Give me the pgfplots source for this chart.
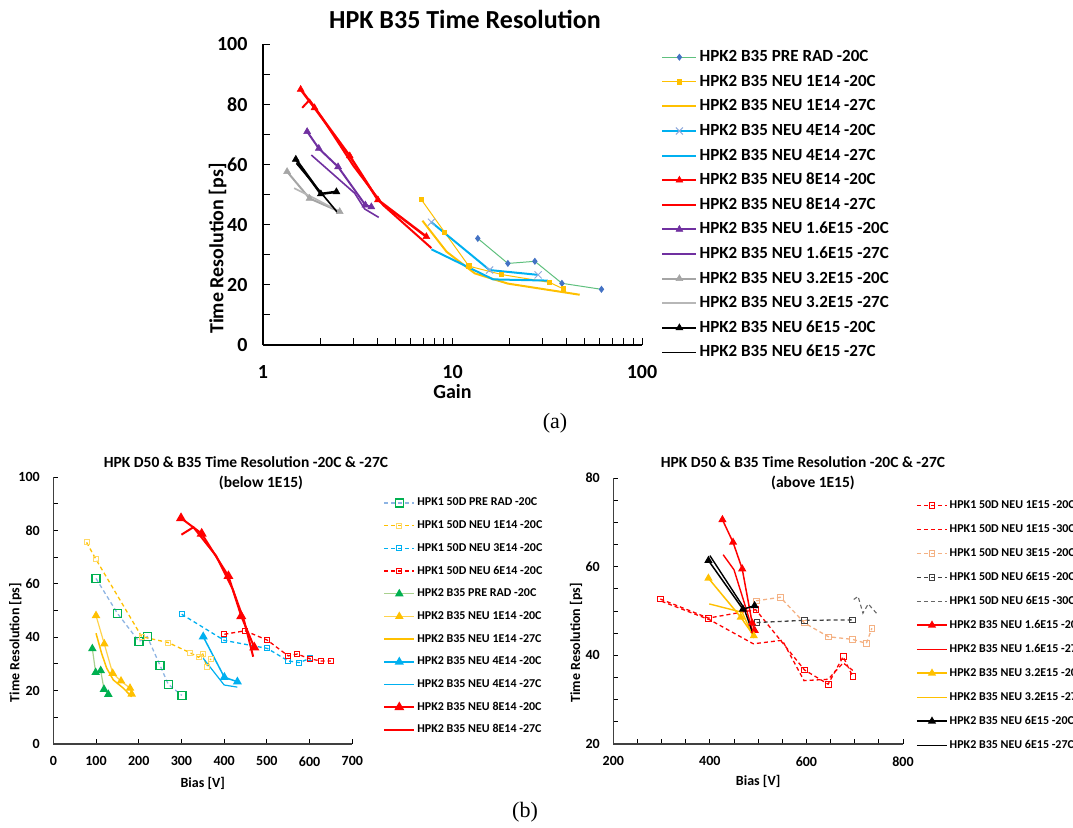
\documentclass[border=0pt]{standalone}
\usepackage{fontspec}
\setmainfont{Carlito}
\newfontfamily\timesfont{Liberation Serif}
\usepackage{pgfplots}
\pgfplotsset{compat=1.18}
\definecolor{gold}{HTML}{FFC000}
\definecolor{cyanx}{HTML}{00B0F0}
\definecolor{redx}{HTML}{FF0000}
\definecolor{purp}{HTML}{7030A0}
\definecolor{grayx}{HTML}{A5A5A5}
\definecolor{greenl}{HTML}{5FC07E}
\definecolor{mkblue}{HTML}{4472C4}
\definecolor{xblue}{HTML}{8FAADC}
\definecolor{gx}{HTML}{00B050}
\definecolor{lgreen}{HTML}{A9D18E}
\definecolor{dblue}{HTML}{8EB4E3}
\definecolor{lyellow}{HTML}{FFD966}
\definecolor{salmon}{HTML}{F4B183}
\definecolor{dgray}{HTML}{404040}
\pgfplotsset{
  common/.style={
    scale only axis,
    axis x line*=bottom, axis y line*=left,
    axis line style={black, line width=1.3pt, -},
    every tick/.style={black, line width=1pt},
    tick align=inside,
    major tick length=7pt, minor tick length=7pt,
    /pgf/number format/assume math mode=true,
    clip=false,
    legend cell align=left,
  },
  dsh/.style={dash pattern=on 4pt off 3pt},
}
\begin{document}
\begin{tikzpicture}
\path[use as bounding box] (0,0) rectangle (1073pt,-827pt);
% titles
\node[font=\bfseries\fontsize{26}{26}\selectfont] at (465pt,-19pt) {HPK B35 Time Resolution};
\node[font=\bfseries\fontsize{15.5}{15.5}\selectfont] at (246pt,-462pt) {HPK D50 \& B35 Time Resolution -20C \& -27C};
\node[font=\bfseries\fontsize{15.5}{15.5}\selectfont] at (261pt,-483pt) {(below 1E15)};
\node[font=\bfseries\fontsize{15.5}{15.5}\selectfont] at (803pt,-462pt) {HPK D50 \& B35 Time Resolution -20C \& -27C};
\node[font=\bfseries\fontsize{15.5}{15.5}\selectfont] at (813pt,-483pt) {(above 1E15)};
\node[font=\timesfont\fontsize{22}{22}\selectfont] at (555pt,-423pt) {(a)};
\node[font=\timesfont\fontsize{22}{22}\selectfont] at (525pt,-812pt) {(b)};

% ================= TOP =================
\begin{axis}[common,
  at={(263pt,-345pt)}, anchor=south west,
  width=379pt, height=301pt,
  xmode=log, xmin=1, xmax=100, ymin=0, ymax=100,
  xtick={1,10,100}, xticklabels={1,10,100},
  ytick={0,20,40,60,80,100}, minor y tick num=1,
  tick label style={font=\bfseries\fontsize{20}{20}\selectfont},
  xticklabel style={yshift=-17pt},
  yticklabel style={xshift=-12pt},
  xlabel={Gain}, ylabel={Time Resolution [ps]},
  label style={font=\bfseries\fontsize{20}{20}\selectfont},
  xlabel style={at={(axis description cs:0.5,-0.156)}, anchor=center},
  ylabel style={at={(axis description cs:-0.12,0.32)}, anchor=center, rotate=0},
  legend image code/.code={\draw[#1] (0pt,0pt) -- (34pt,0pt); \path[#1] plot coordinates {(17pt,0pt)};},
  legend style={draw=none, fill=none, at={(axis description cs:1.050,0.985)}, anchor=north west,
    inner sep=0pt, row sep=7.6pt,
    font=\bfseries\fontsize{17}{17}\selectfont,
    nodes={inner xsep=2pt, inner ysep=0pt, text height=13pt, text depth=4pt}},
]
\addplot[greenl, line width=1pt, mark=diamond*, mark size=2.8pt, mark options={fill=mkblue, draw=mkblue}] coordinates {(13.6,35.4)(19.6,27.1)(27.2,27.8)(37.8,20.5)(61.1,18.5)};
\addlegendentry{HPK2 B35 PRE RAD -20C}
\addplot[gold, line width=1pt, mark=square*, mark size=2.2pt, mark options={fill=gold, draw=gold}] coordinates {(6.85,48.3)(9.1,37.4)(12.2,26.2)(18.2,23.4)(32.5,20.8)(38.6,18.6)};
\addlegendentry{HPK2 B35 NEU 1E14 -20C}
\addplot[gold, line width=2pt] coordinates {(6.94,41.3)(9.3,31.0)(13.1,23.8)(19.6,20.4)(46.9,16.7)};
\addlegendentry{HPK2 B35 NEU 1E14 -27C}
\addplot[cyanx, line width=2pt, mark=x, mark size=5pt, mark options={draw=xblue, line width=1pt}] coordinates {(7.74,40.8)(15.7,24.9)(28.3,23.3)};
\addlegendentry{HPK2 B35 NEU 4E14 -20C}
\addplot[cyanx, line width=2pt] coordinates {(7.74,31.8)(16.4,21.8)(31.9,21.4)};
\addlegendentry{HPK2 B35 NEU 4E14 -27C}
\addplot[redx, line width=2.5pt, mark=triangle*, mark size=4pt, mark options={fill=redx, draw=redx, line width=0.5pt}] coordinates {(1.58,84.9)(1.87,78.8)(2.87,62.8)(4.04,48.2)(7.28,36.0)};
\addlegendentry{HPK2 B35 NEU 8E14 -20C}
\addplot[redx, line width=2pt] coordinates {(1.61,78.8)(1.76,81.4)(2.05,75.5)(3.0,59.5)(4.3,46.5)(7.74,32.2)};
\addlegendentry{HPK2 B35 NEU 8E14 -27C}
\addplot[purp, line width=2pt, mark=triangle*, mark size=4pt, mark options={fill=purp, draw=purp, line width=0.5pt}] coordinates {(1.71,70.9)(1.97,65.3)(2.49,59.2)(3.47,46.5)(3.73,45.9)};
\addlegendentry{HPK2 B35 NEU 1.6E15 -20C}
\addplot[purp, line width=1.6pt] coordinates {(1.80,63.1)(3.05,50.4)(3.44,45.2)(4.08,42.4)};
\addlegendentry{HPK2 B35 NEU 1.6E15 -27C}
\addplot[grayx, line width=2pt, mark=triangle*, mark size=4pt, mark options={fill=grayx, draw=grayx, line width=0.5pt}] coordinates {(1.34,57.6)(1.76,48.7)(2.54,44.3)};
\addlegendentry{HPK2 B35 NEU 3.2E15 -20C}
\addplot[grayx!80!white, line width=1.6pt] coordinates {(1.46,52.1)(1.9,48.5)(2.59,44.0)};
\addlegendentry{HPK2 B35 NEU 3.2E15 -27C}
\addplot[black, line width=2.5pt, mark=triangle*, mark size=4pt, mark options={fill=black, line width=0.5pt}] coordinates {(1.49,61.7)(2.02,50.2)(2.44,50.9)};
\addlegendentry{HPK2 B35 NEU 6E15 -20C}
\addplot[black, line width=1.6pt] coordinates {(1.50,60.4)(2.49,43.8)};
\addlegendentry{HPK2 B35 NEU 6E15 -27C}
\end{axis}

% ================= BOTTOM LEFT =================
\begin{axis}[common,
  at={(53.3pt,-744pt)}, anchor=south west,
  width=299pt, height=267pt,
  xmin=0, xmax=700, ymin=0, ymax=100,
  xtick={0,100,...,700}, ytick={0,20,...,100}, minor y tick num=1,
  axis line style={dgray, line width=1.2pt, -},
  major tick length=5pt, minor tick length=5pt,
  tick label style={font=\bfseries\fontsize{14}{14}\selectfont},
  xticklabel style={yshift=-9pt},
  yticklabel style={xshift=-10pt},
  xlabel={Bias [V]}, ylabel={Time Resolution [ps]},
  label style={font=\bfseries\fontsize{14}{14}\selectfont},
  xlabel style={at={(axis description cs:0.5,-0.147)}, anchor=center},
  ylabel style={at={(axis description cs:-0.127,0.38)}, anchor=center, rotate=0},
  legend image code/.code={\draw[#1] (0pt,0pt) -- (30pt,0pt); \path[#1] plot coordinates {(15pt,0pt)};},
  legend style={draw=none, fill=none, at={(axis description cs:1.103,0.926)}, anchor=north west,
    inner sep=0pt, row sep=10.7pt,
    font=\bfseries\fontsize{12}{12}\selectfont,
    nodes={inner xsep=2pt, inner ysep=0pt, text height=9pt, text depth=3pt}},
]
\addplot[dblue, line width=1.3pt, dsh, mark=square, mark size=4pt, mark options={solid, draw=gx, fill=white, line width=1.3pt}] coordinates {(100,62)(150.7,48.8)(200.6,38.4)(220,40.2)(250,29.4)(269,22.4)(301,18.2)};
\addlegendentry{HPK1 50D PRE RAD -20C}
\addplot[gold, line width=1.3pt, dsh, mark=square, mark size=2.5pt, mark options={solid, draw=lyellow, fill=white, line width=1pt}] coordinates {(78,75.5)(99,69.4)(207,40.2)(269,38)(320,34.2)(340,32.5)(350,33.7)(359,29)(369,31.9)};
\addlegendentry{HPK1 50D NEU 1E14 -20C}
\addplot[cyanx, line width=1.3pt, dsh, mark=square, mark size=2.5pt, mark options={solid, draw=cyanx, fill=white, line width=1pt}] coordinates {(300.6,48.6)(400.4,38.8)(501,35.8)(550,31.1)(576,30.5)(601,32.1)};
\addlegendentry{HPK1 50D NEU 3E14 -20C}
\addplot[redx, line width=1.3pt, dsh, mark=square, mark size=2.5pt, mark options={solid, draw=redx, fill=white, line width=1pt}] coordinates {(400.4,41.1)(449,42.4)(501,38.9)(550,33.0)(571,33.7)(601,31.9)(626,31.1)(650,31.1)};
\addlegendentry{HPK1 50D NEU 6E14 -20C}
\addplot[lgreen, line width=1.2pt, mark=triangle*, mark size=3.8pt, mark options={fill=gx, draw=gx}] coordinates {(91.4,35.7)(99.2,26.8)(111,27.5)(118.7,20.5)(128.8,18.6)};
\addlegendentry{HPK2 B35 PRE RAD -20C}
\addplot[gold!70!white, line width=1.2pt, mark=triangle*, mark size=3.8pt, mark options={fill=gold, draw=gold}] coordinates {(100,48.1)(119.4,37.5)(139,26.5)(158.5,23.6)(179.6,20.9)(183.5,18.7)};
\addlegendentry{HPK2 B35 NEU 1E14 -20C}
\addplot[gold, line width=1.5pt] coordinates {(100,41.5)(113,34)(125,28.4)(140.5,24)(164,20.9)(183.5,17.7)};
\addlegendentry{HPK2 B35 NEU 1E14 -27C}
\addplot[cyanx, line width=1.5pt, mark=triangle*, mark size=3.8pt, mark options={fill=cyanx, draw=cyanx}] coordinates {(351,40.2)(400.5,25)(431,23.3)};
\addlegendentry{HPK2 B35 NEU 4E14 -20C}
\addplot[cyanx, line width=1.2pt] coordinates {(351,32.1)(400,22.1)(431,21.3)};
\addlegendentry{HPK2 B35 NEU 4E14 -27C}
\addplot[redx, line width=2pt, mark=triangle*, mark size=3.8pt, mark options={fill=redx, draw=redx}] coordinates {(299,84.6)(347.4,78.8)(410,62.9)(440,47.9)(470.5,36.2)};
\addlegendentry{HPK2 B35 NEU 8E14 -20C}
\addplot[redx, line width=2pt] coordinates {(300,78.4)(328,81.2)(381,70.5)(420,58)(447,46)(468,32.7)};
\addlegendentry{HPK2 B35 NEU 8E14 -27C}
\end{axis}

% ================= BOTTOM RIGHT =================
\begin{axis}[common,
  at={(613.3pt,-744pt)}, anchor=south west,
  width=289.7pt, height=266pt,
  xmin=200, xmax=800, ymin=20, ymax=80,
  xtick={200,400,600,800}, minor x tick num=3,
  ytick={20,40,60,80}, minor y tick num=3,
  axis line style={dgray, line width=1.2pt, -},
  major tick length=5pt, minor tick length=5pt,
  tick label style={font=\bfseries\fontsize{14}{14}\selectfont},
  xticklabel style={yshift=-9pt},
  yticklabel style={xshift=-10pt},
  xlabel={Bias [V]}, ylabel={Time Resolution [ps]},
  label style={font=\bfseries\fontsize{14}{14}\selectfont},
  xlabel style={at={(axis description cs:0.5,-0.142)}, anchor=center},
  ylabel style={at={(axis description cs:-0.128,0.38)}, anchor=center, rotate=0},
  legend image code/.code={\draw[#1] (0pt,0pt) -- (30pt,0pt); \path[#1] plot coordinates {(15pt,0pt)};},
  legend style={draw=none, fill=none, at={(axis description cs:1.045,0.921)}, anchor=north west,
    inner sep=0pt, row sep=12pt,
    font=\bfseries\fontsize{12}{12}\selectfont,
    nodes={inner xsep=2pt, inner ysep=0pt, text height=9pt, text depth=3pt}},
]
\addplot[redx, line width=1.3pt, dsh, mark=square, mark size=2.8pt, mark options={solid, draw=redx, fill=white, line width=0.8pt}] coordinates {(297.5,52.7)(397,48.4)(495,50.3)(596,36.7)(645,33.5)(676,39.7)(696,35.2)};
\addlegendentry{HPK1 50D NEU 1E15 -20C}
\addplot[redx, line width=1.3pt, dsh] coordinates {(300,52.2)(400,48.0)(490,42.6)(550,43.4)(595,34.3)(645,34.6)(676,38.3)(696,36.6)};
\addlegendentry{HPK1 50D NEU 1E15 -30C}
\addplot[salmon, line width=1.3pt, dsh, mark=square, mark size=2.8pt, mark options={solid, draw=salmon, fill=white, line width=0.8pt}] coordinates {(496,52.3)(546,53.1)(596,47.3)(645.5,44.2)(695.5,43.6)(724,42.7)(735.6,46.1)};
\addlegendentry{HPK1 50D NEU 3E15 -20C}
\addplot[dgray, line width=1.3pt, dsh, mark=square, mark size=2.8pt, mark options={solid, draw=dgray, fill=white, line width=0.8pt}] coordinates {(497,47.4)(596,47.9)(695,48.0)};
\addlegendentry{HPK1 50D NEU 6E15 -20C}
\addplot[dgray!80!white, line width=1.1pt, dsh] coordinates {(698,52.6)(707,53.3)(717,49.5)(728,51.6)(745,49.5)};
\addlegendentry{HPK1 50D NEU 6E15 -30C}
\addplot[redx, line width=1.5pt, mark=triangle*, mark size=3.3pt, mark options={fill=redx, draw=redx}] coordinates {(426,70.6)(448,65.5)(467,59.5)(487.6,47.3)(493,45.6)};
\addlegendentry{HPK2 B35 NEU 1.6E15 -20C}
\addplot[redx, line width=1.4pt] coordinates {(427.5,62.7)(450,59.3)(475.7,50.3)(491,44.6)};
\addlegendentry{HPK2 B35 NEU 1.6E15 -27C}
\addplot[gold, line width=1.5pt, mark=triangle*, mark size=3.3pt, mark options={fill=gold, draw=gold}] coordinates {(397,57.4)(464,48.6)(491,44.4)};
\addlegendentry{HPK2 B35 NEU 3.2E15 -20C}
\addplot[gold, line width=1.4pt] coordinates {(398.7,51.6)(467,49.7)(491,43.9)};
\addlegendentry{HPK2 B35 NEU 3.2E15 -27C}
\addplot[black, line width=1.5pt, mark=triangle*, mark size=3.3pt, mark options={fill=black}] coordinates {(397,61.4)(468.5,50.4)(492.6,51.2)};
\addlegendentry{HPK2 B35 NEU 6E15 -20C}
\addplot[black, line width=1.4pt] coordinates {(400,62.5)(470,50.8)(491,44.3)};
\addlegendentry{HPK2 B35 NEU 6E15 -27C}
\end{axis}
\end{tikzpicture}
\end{document}
